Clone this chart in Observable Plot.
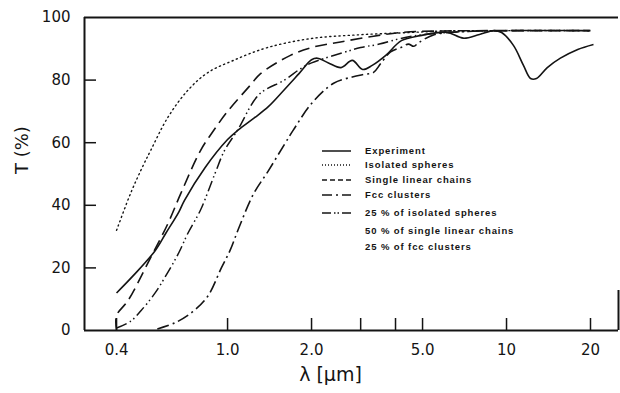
<!DOCTYPE html>
<html><head><meta charset="utf-8">
<script src="https://cdn.jsdelivr.net/npm/d3@7"></script>
<script src="https://cdn.jsdelivr.net/npm/@observablehq/plot@0.6"></script>
<style>
body{margin:0;background:#fff}
#wrap{position:relative;width:620px;height:393px}
#wrap svg.leg{position:absolute;left:0;top:0;pointer-events:none}
</style>
</head><body><div id="wrap"></div>
<script>
// ---- data ----
const xDomain = [0.307, 25.2];
const xTicks = [0.4, 1, 2, 3, 4, 5, 10, 20];
const xLabels = [0.4, 1, 2, 5, 10, 20];
const yTicks = [0, 20, 40, 60, 80, 100];

const expX = [0.4, 0.46, 0.55, 0.6, 0.67, 0.7, 0.83, 1.0, 1.09, 1.25, 1.4, 1.6, 1.8, 2.0, 2.1, 2.3, 2.55, 2.8, 3.05, 3.3, 3.7, 4.2, 4.9, 6.1, 7.0, 8.0, 9.0, 9.6, 10.6, 11.5, 12.2, 12.8, 14, 15.6, 18, 20.5];
const expY = [12, 17.6, 25.5, 31, 38, 41.5, 52, 61, 64, 68, 71.5, 77, 82, 86.5, 87, 85.5, 84, 86.3, 83.4, 84.7, 88, 92.6, 94.2, 95.3, 93.4, 94.6, 95.8, 95.2, 91, 84.7, 80.5, 80.5, 84, 87, 89.8, 91.4];

const sphX = [0.4, 0.45, 0.5, 0.53, 0.61, 0.72, 0.85, 1.05, 1.39, 2.0, 3.0, 4.5, 6, 10, 20];
const sphY = [32, 44, 53, 57.5, 68, 76.7, 82.4, 86.3, 90.4, 93.3, 94.5, 95.2, 95.7, 95.8, 95.8];

const chX = [0.4, 0.4, 0.44, 0.53, 0.61, 0.68, 0.8, 0.89, 1.0, 1.21, 1.31, 1.68, 2.0, 2.54, 4.17, 6, 10, 20];
const chY = [0, 4.8, 9.6, 23.3, 34, 43.8, 57.5, 63.8, 70, 78.5, 82, 87.9, 90.4, 92.2, 95.2, 95.7, 95.8, 95.8];

const fccX = [0.56, 0.65, 0.75, 0.85, 0.95, 1.02, 1.1, 1.24, 1.4, 1.6, 1.72, 2.0, 2.4, 2.8, 3.07, 3.33, 3.54, 3.84, 4.2, 4.45, 4.65, 4.85, 5.5, 7, 10, 20];
const fccY = [0.5, 2.5, 6, 11, 20, 25.5, 33, 43.7, 51, 59.5, 64, 72.5, 79, 81, 81.8, 82.4, 85.3, 89, 90.5, 91.5, 90.8, 92, 94.5, 95.5, 95.8, 95.8];

const mixX = [0.4, 0.45, 0.49, 0.55, 0.61, 0.67, 0.72, 0.8, 0.9, 0.975, 1.086, 1.3, 1.6, 1.83, 2.0, 2.6, 3.0, 3.5, 4.17, 5, 7, 10, 20];
const mixY = [0.8, 3, 6.4, 12, 18.5, 25, 31, 38.5, 50, 57.5, 64, 75.5, 80, 83.7, 85.5, 88.8, 90.4, 91.5, 93.3, 94.5, 95.5, 95.8, 95.8];

const legendLabels = ["Experiment", "Isolated spheres", "Single linear chains", "Fcc clusters", "25 % of isolated spheres", "50 % of single linear chains", "25 % of fcc clusters"];

// ---- styles ----
const ink = "#141414";
const series = [
  {x: expX, y: expY, dash: null, w: 1.6, legDash: null, cap: "butt"},
  {x: sphX, y: sphY, dash: "1.2,3.4", w: 1.4, legDash: "1,2", cap: "round"},
  {x: chX, y: chY, dash: "12,6", w: 1.6, legDash: "5,3", cap: "butt"},
  {x: fccX, y: fccY, dash: "12,4,2,4", w: 1.6, legDash: "10,4,2,4", cap: "butt"},
  {x: mixX, y: mixY, dash: "11,3.5,1.5,3,1.5,3.5", w: 1.5, legDash: "9,3,1.5,2,1.5,3", cap: "butt"}
];

const lineMarks = series.map(s => Plot.line(
  s.x.map((x, i) => ({x, y: s.y[i]})),
  {x: "x", y: "y", stroke: ink, strokeWidth: s.w, strokeDasharray: s.dash, curve: "catmull-rom", strokeLinecap: s.cap}
));

const fmtX = d => d >= 10 ? String(d) : d.toFixed(1);

const chart = Plot.plot({
  width: 620, height: 393,
  marginLeft: 84, marginRight: 2, marginTop: 17, marginBottom: 63,
  style: {fontFamily: "DejaVu Sans", fontSize: "15px", color: ink, background: "#fff"},
  x: {type: "log", domain: xDomain, axis: null},
  y: {domain: [0, 100], axis: null},
  marks: [
    Plot.ruleY([0, 100], {y: d => d, stroke: ink, strokeWidth: 2}),
    Plot.ruleX([xDomain[0]], {x: d => d, stroke: ink, strokeWidth: 2}),
    Plot.ruleX([xDomain[1]], {x: d => d, insetTop: 273, stroke: ink, strokeWidth: 2}),
    Plot.ruleX(xTicks, {x: d => d, insetTop: 301, stroke: ink, strokeWidth: 1.5}),
    Plot.ruleY(yTicks.slice(1, -1), {y: d => d, insetRight: 522, stroke: ink, strokeWidth: 1.5}),
    Plot.text(xLabels, {x: d => d, text: fmtX, frameAnchor: "bottom", dy: 24, fontSize: 15, fill: ink}),
    Plot.text(yTicks, {y: d => d, text: d => String(d), frameAnchor: "left", dx: -14, textAnchor: "end", fontSize: 15, fill: ink}),
    Plot.text(["T (%)"], {frameAnchor: "left", dx: -62, rotate: -90, fontSize: 18, fill: ink}),
    Plot.text(["λ [μm]"], {frameAnchor: "bottom", dx: -21, dy: 50, fontSize: 19, fill: ink}),
    ...lineMarks
  ]
});
const wrap = document.getElementById("wrap");
wrap.appendChild(chart);

// ---- legend overlay ----
const rowY = [151, 165, 180, 195, 213, 231, 247];
const leg = d3.select(wrap).append("svg").attr("class", "leg").attr("width", 620).attr("height", 393);
legendLabels.forEach((lab, i) => {
  if (i < series.length) {
    leg.append("line").attr("x1", 322).attr("x2", 351).attr("y1", rowY[i]).attr("y2", rowY[i])
      .attr("stroke", ink).attr("stroke-width", 1.5)
      .attr("stroke-dasharray", series[i].legDash);
  }
  leg.append("text").attr("x", 365).attr("y", rowY[i]).attr("dy", "0.35em")
    .attr("font-family", "Liberation Sans, Arial, sans-serif").attr("font-weight", "bold")
    .attr("font-size", 9.5).attr("letter-spacing", 0.9).attr("fill", ink).text(lab);
});
</script>
</body></html>
